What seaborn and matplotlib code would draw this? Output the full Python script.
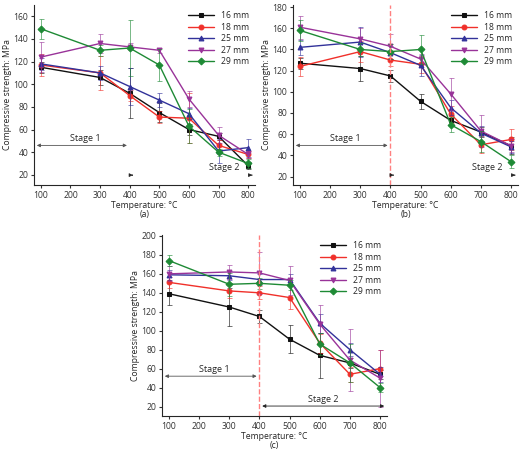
import numpy as np
import matplotlib
matplotlib.use("Agg")
import matplotlib.pyplot as plt
import seaborn as sns

sns.set_style("ticks")
plt.rcParams["font.family"] = ["Open Sans", "DejaVu Sans"]
plt.rcParams["font.size"] = 6.5

temps = [100, 300, 400, 500, 600, 700, 800]
labels = ["16 mm", "18 mm", "25 mm", "27 mm", "29 mm"]
colors = ["#111111", "#f0302a", "#32329a", "#993399", "#1e8a35"]
markers = ["s", "o", "^", "v", "D"]

a_vals = [[115, 106, 92, 75, 60, 54, 28],
          [117, 110, 90, 71, 70, 46, 38],
          [118, 110, 98, 86, 74, 41, 44],
          [124, 136, 133, 130, 87, 55, 38],
          [149, 130, 132, 117, 63, 40, 30]]
a_err = [[5, 7, 22, 8, 5, 3, 3],
         [10, 15, 5, 5, 22, 5, 3],
         [5, 6, 16, 6, 5, 11, 8],
         [13, 8, 3, 2, 7, 7, 3],
         [9, 5, 25, 14, 15, 3, 4]]
b_vals = [[127, 122, 115, 91, 73, 62, 49],
          [124, 138, 130, 126, 79, 50, 55],
          [142, 147, 137, 125, 85, 61, 48],
          [161, 150, 143, 131, 98, 63, 49],
          [158, 140, 138, 140, 69, 53, 34]]
b_err = [[5, 12, 6, 7, 4, 5, 8],
         [9, 10, 6, 8, 8, 8, 10],
         [7, 14, 6, 10, 7, 7, 6],
         [11, 10, 12, 5, 15, 15, 6],
         [10, 6, 7, 14, 7, 10, 6]]
c_vals = [[139, 125, 115, 91, 74, 66, 54],
          [151, 142, 140, 135, 87, 54, 60],
          [159, 158, 154, 154, 108, 80, 54],
          [160, 162, 161, 153, 107, 69, 50],
          [174, 149, 150, 148, 86, 66, 40]]
c_err = [[12, 20, 7, 15, 24, 5, 5],
         [6, 8, 7, 12, 10, 8, 20],
         [5, 5, 6, 6, 10, 7, 8],
         [8, 7, 22, 15, 20, 33, 30],
         [6, 12, 6, 5, 12, 20, 5]]

W, H = 520, 453
fig = plt.figure(figsize=(5.2, 4.53), dpi=100)


def add_ax(l, t, r, b):
    return fig.add_axes([l / W, 1 - b / H, (r - l) / W, (b - t) / H])


def panel(ax, vals, errs, ylim, yticks, tag, vline, stage2_full):
    for v, e, lab, c, m in zip(vals, errs, labels, colors, markers):
        ax.errorbar(temps, v, yerr=e, color=c, ecolor=c, elinewidth=0.7,
                    capsize=1.8, capthick=0.7, alpha=0.6, fmt="none")
        sns.lineplot(x=temps, y=v, ax=ax, color=c, marker=m, markersize=3.5,
                     markeredgecolor=c, linewidth=1.0, label=lab)
    ax.set_xlim(77, 823)
    ax.set_ylim(*ylim)
    ax.set_xticks(range(100, 900, 100))
    ax.set_yticks(yticks)
    sns.despine(ax=ax)
    ax.tick_params(length=2.5, labelsize=6.2, colors="#333333", pad=1.5)
    ax.set_xlabel("Temperature: °C", fontsize=6.2, labelpad=1)
    ax.set_ylabel("Compressive strength: MPa", fontsize=6.2, labelpad=1)
    ax.text(0.5, -0.14, tag, transform=ax.transAxes, ha="center", va="top", fontsize=6.2)
    ax.legend(loc="upper right", frameon=False, fontsize=6.2, handlelength=3,
              labelspacing=0.3, borderaxespad=0.3)
    if vline:
        ax.axvline(400, color="#ff8080", linestyle="--", linewidth=1)
    y1 = ylim[0] + 0.22 * (ylim[1] - ylim[0])
    ax.annotate("", xy=(77, y1), xytext=(400, y1),
                arrowprops=dict(arrowstyle="<|-|>", color="#555555", lw=0.6,
                                mutation_scale=5))
    ax.text(250, y1 + 2, "Stage 1", ha="center", va="bottom", fontsize=6.5)
    y2 = ylim[0] + 0.055 * (ylim[1] - ylim[0])
    if stage2_full:
        ax.annotate("", xy=(400, y2), xytext=(823, y2),
                    arrowprops=dict(arrowstyle="<|-|>", color="#222222", lw=0.6,
                                    mutation_scale=5))
        ax.text(610, y2 + 2, "Stage 2", ha="center", va="bottom", fontsize=6.5)
    else:
        ax.annotate("", xy=(400, y2), xytext=(420, y2),
                    arrowprops=dict(arrowstyle="<|-", color="#222222", lw=0.6,
                                    mutation_scale=5))
        ax.annotate("", xy=(823, y2), xytext=(803, y2),
                    arrowprops=dict(arrowstyle="-|>", color="#222222", lw=0.6,
                                    mutation_scale=5))
        ax.text(720, y2 + 3, "Stage 2", ha="center", va="bottom", fontsize=6.5)


ax_a = add_ax(34, 5, 255, 185)
panel(ax_a, a_vals, a_err, (11, 170), range(20, 161, 20), "(a)", False, False)
ax_b = add_ax(293, 5, 518, 185)
panel(ax_b, b_vals, b_err, (12, 182), range(20, 181, 20), "(b)", True, False)
ax_c = add_ax(162, 235, 387, 416)
panel(ax_c, c_vals, c_err, (10, 201), range(20, 201, 20), "(c)", True, True)

fig.savefig("out.png", dpi=100)
